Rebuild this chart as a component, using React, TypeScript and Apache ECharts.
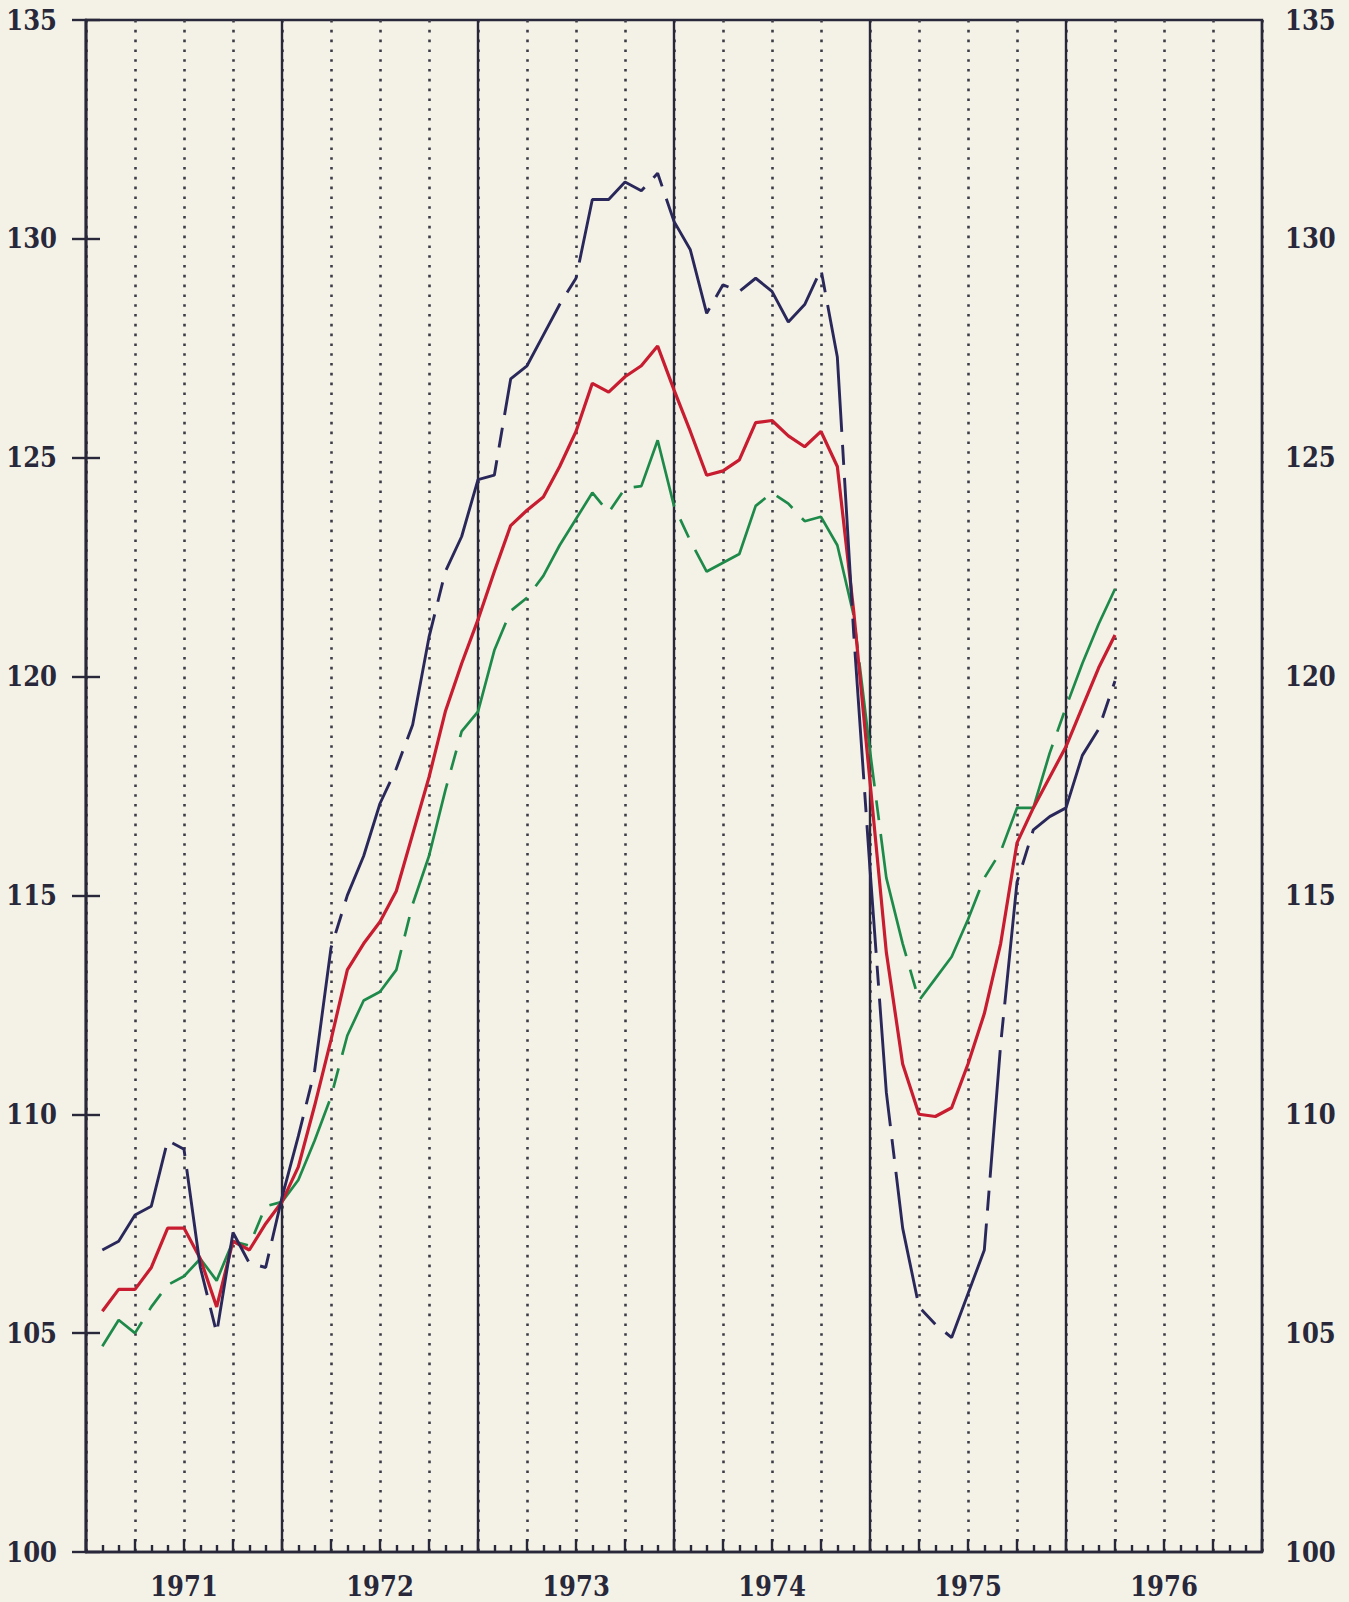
import React, { useEffect, useRef } from 'react';
import * as echarts from 'echarts';

// Year labels shown under the x axis (centred in each year)
const years = ['1971', '1972', '1973', '1974', '1975', '1976'];
// Y axis range and step
const yMin = 100;
const yMax = 135;
const yStep = 5;
// Months on the x axis: 0 = start of Jan 1971, 72 = start of Jan 1977
const monthMax = 72;
// First data point is at month boundary 1 (end of January 1971), monthly thereafter
const firstMonth = 1;

// Navy (dashed) series
const navy = [
  106.9, 107.1, 107.7, 107.9, 109.4, 109.2, 106.5, 105.0, 107.3, 106.6, 106.5, 108.1,
  109.5, 111.0, 113.8, 115.0, 115.9, 117.1, 117.9, 118.9, 120.9, 122.4, 123.2, 124.5,
  124.6, 126.8, 127.1, 127.8, 128.5, 129.1, 130.9, 130.9, 131.3, 131.1, 131.5, 130.4,
  129.75, 128.3, 128.95, 128.8, 129.1, 128.8, 128.1, 128.5, 129.3, 127.3, 121.0, 115.6,
  110.5, 107.4, 105.6, 105.2, 104.9, 105.9, 106.9, 111.6, 115.3, 116.5, 116.8, 117.0,
  118.2, 118.8, 119.9,
];

// Red (solid) series
const red = [
  105.5, 106.0, 106.0, 106.5, 107.4, 107.4, 106.7, 105.6, 107.1, 106.9, 107.5, 108.0,
  108.8, 110.2, 111.7, 113.3, 113.9, 114.4, 115.1, 116.4, 117.7, 119.2, 120.3, 121.3,
  122.4, 123.45, 123.8, 124.1, 124.8, 125.6, 126.7, 126.5, 126.85, 127.1, 127.55, 126.55,
  125.6, 124.6, 124.7, 124.95, 125.8, 125.85, 125.5, 125.25, 125.6, 124.8, 121.5, 117.6,
  113.7, 111.15, 110.0, 109.95, 110.15, 111.15, 112.3, 113.9, 116.2, 117.0, 117.7, 118.4,
  119.3, 120.2, 120.95,
];

// Green (dashed) series
const green = [
  104.7, 105.3, 105.0, 105.6, 106.1, 106.3, 106.7, 106.2, 107.1, 107.0, 107.9, 108.0,
  108.5, 109.4, 110.4, 111.8, 112.6, 112.8, 113.3, 114.8, 115.9, 117.4, 118.75, 119.2,
  120.6, 121.5, 121.8, 122.3, 123.0, 123.6, 124.2, 123.75, 124.3, 124.35, 125.4, 123.9,
  123.1, 122.4, 122.6, 122.8, 123.9, 124.2, 123.95, 123.55, 123.65, 123.0, 121.4, 118.3,
  115.4, 113.9, 112.6, 113.1, 113.6, 114.45, 115.4, 116.0, 117.0, 117.0, 118.25, 119.3,
  120.3, 121.2, 122.0,
];

const INK = '#28283a';
const DOT = '#3c3c48';
const BG = '#f4f2e6';
const FONT = '"DejaVu Serif Condensed", "DejaVu Serif", serif';

const toPairs = (arr: number[]) => arr.map((v, k) => [firstMonth + k, v]);

export default function App() {
  const ref = useRef<HTMLDivElement>(null);

  useEffect(() => {
    document.body.style.margin = '0';
    document.body.style.background = BG;
    const chart = echarts.init(ref.current!, null, { renderer: 'svg' });

    const yAxisBase = (position: 'left' | 'right', margin: number) => ({
      type: 'value',
      position,
      min: yMin,
      max: yMax,
      interval: yStep,
      axisLine: { show: true, lineStyle: { color: INK, width: 2.4 } },
      axisTick: { show: true, inside: false, length: 14, lineStyle: { color: INK, width: 2.4 } },
      axisLabel: {
        show: true,
        margin,
        fontSize: 27,
        fontWeight: 'bold',
        fontFamily: FONT,
        color: INK,
      },
      splitLine: { show: false },
    });

    chart.setOption({
      animation: false,
      backgroundColor: BG,
      grid: {
        left: 86,
        right: 87,
        top: 20,
        bottom: 50,
        show: true,
        borderColor: INK,
        borderWidth: 2.4,
        backgroundColor: 'transparent',
      },
      xAxis: [
        {
          type: 'value',
          position: 'bottom',
          min: 0,
          max: monthMax,
          interval: 3,
          axisLine: { show: true, lineStyle: { color: INK, width: 2.4 } },
          axisTick: { show: true, inside: true, length: 13, lineStyle: { color: INK, width: 2.4 } },
          minorTick: { show: true, splitNumber: 3, length: 7, lineStyle: { color: INK, width: 2.4 } },
          splitLine: {
            show: true,
            lineStyle: { color: DOT, width: 2.6, type: [2.6, 7.2] },
          },
          axisLabel: {
            show: true,
            margin: 21,
            fontSize: 27,
            fontWeight: 'bold',
            fontFamily: FONT,
            color: INK,
            formatter: (v: number) => (v % 12 === 6 ? years[(v - 6) / 12] : ''),
          },
        },
        {
          type: 'value',
          position: 'top',
          min: 0,
          max: monthMax,
          interval: 12,
          axisLine: { show: false },
          axisTick: { show: false },
          axisLabel: { show: false },
          splitLine: { show: true, lineStyle: { color: INK, width: 2.4, type: 'solid' } },
        },
      ],
      yAxis: [yAxisBase('left', 29), yAxisBase('right', 23)],
      series: [
        {
          name: 'green',
          type: 'line',
          xAxisIndex: 0,
          yAxisIndex: 0,
          data: toPairs(green),
          symbol: 'none',
          z: 3,
          lineStyle: { color: '#1e8a4a', width: 2.7, type: [125, 14, 20, 14], dashOffset: 60 },
        },
        {
          name: 'red',
          type: 'line',
          xAxisIndex: 0,
          yAxisIndex: 0,
          data: toPairs(red),
          symbol: 'none',
          z: 4,
          lineStyle: { color: '#c81c30', width: 3.2, type: 'solid' },
        },
        {
          name: 'navy',
          type: 'line',
          xAxisIndex: 0,
          yAxisIndex: 0,
          data: toPairs(navy),
          symbol: 'none',
          z: 5,
          lineStyle: { color: '#2a285a', width: 2.9, type: [128, 13, 20, 13], dashOffset: 0 },
        },
      ],
    });

    return () => chart.dispose();
  }, []);

  return (
    <div
      ref={ref}
      style={{ position: 'absolute', left: 0, top: 0, width: 1349, height: 1602, background: BG }}
    />
  );
}
